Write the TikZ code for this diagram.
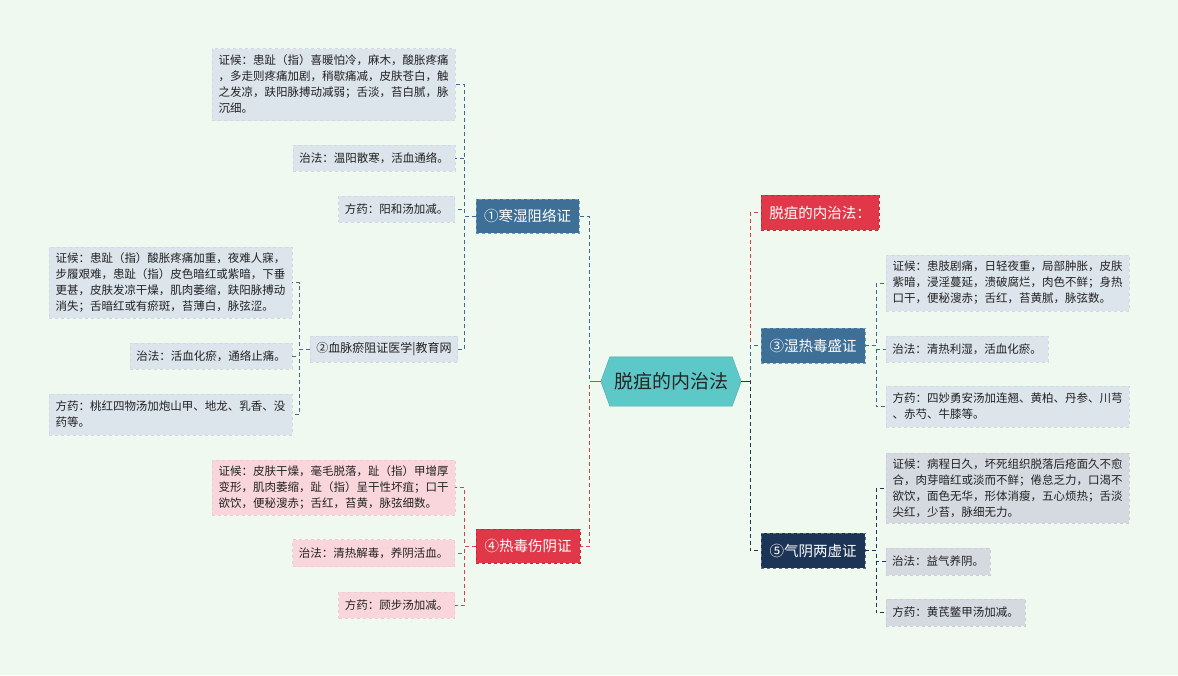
\documentclass[tikz,border=0pt]{standalone}
\usepackage{fontspec}
\setmainfont{Noto Sans CJK SC}
\definecolor{cBg}{HTML}{F0F9EF}
\definecolor{cLeafB}{HTML}{DCE4EC}
\definecolor{cLeafP}{HTML}{F9D6DC}
\definecolor{cLeafG}{HTML}{D5DAE1}
\definecolor{cBlue}{HTML}{3E6F96}
\definecolor{cRed}{HTML}{E03849}
\definecolor{cNavy}{HTML}{1C3456}
\definecolor{cTeal}{HTML}{5CC8C8}
\definecolor{cTxt}{HTML}{222222}
\definecolor{lBlue}{HTML}{3E6A92}
\definecolor{lBlue2}{HTML}{4A6A88}
\definecolor{lRed}{HTML}{D9404F}
\definecolor{lNavy}{HTML}{1C3456}
\newcommand{\leaffont}{\fontsize{11.5}{16}\selectfont}
\newcommand{\mainfont}{\fontsize{14.5}{17}\selectfont}
\tikzset{
  leaf/.style={rectangle, align=left, inner xsep=6pt, inner ysep=3pt, font=\leaffont, text=cTxt, dashed, line width=0.5pt},
  leafb/.style={leaf, fill=cLeafB, draw=cLeafB!95!black},
  leafp/.style={leaf, fill=cLeafP, draw=cLeafP!95!black},
  leafg/.style={leaf, fill=cLeafG, draw=cLeafG!95!black},
  mainnode/.style={rectangle, font=\mainfont, text=white, inner sep=0pt, dashed, line width=0.7pt},
  bluenode/.style={mainnode, fill=cBlue, draw=cBlue!70!white},
  rednode/.style={mainnode, fill=cRed, draw=cRed!80!black},
  navynode/.style={mainnode, fill=cNavy, draw=cNavy!70!white},
  conn/.style={line width=0.9pt, dash pattern=on 4pt off 3pt},
}
\begin{document}
\begin{tikzpicture}[x=1pt,y=-1pt]
\fill[cBg] (0,0) rectangle (1178,675);
\useasboundingbox (0,0) rectangle (1178,675);

% center
\node[minimum width=140pt, minimum height=49pt, inner sep=0pt] (c) at (671,381.5) {};
\fill[cTeal, draw=cTeal!85!black, line width=0.4pt] (c.west) -- ([xshift=9pt]c.north west) -- ([xshift=-9pt]c.north east) -- (c.east) -- ([xshift=-9pt]c.south east) -- ([xshift=9pt]c.south west) -- cycle;
\node[font=\fontsize{19}{22}\selectfont, text=black!85] (ct) at (c.center) {脱疽的内治法};

% left group 1
\node[bluenode, minimum width=103pt, minimum height=34pt] (n1) at (527.5,216) {①寒湿阻络证};
\node[leafb, minimum width=243pt, minimum height=72pt] (a1) at (333.5,84.5) {证候：患趾（指）喜暖怕冷，麻木，酸胀疼痛\\，多走则疼痛加剧，稍歇痛减，皮肤苍白，触\\之发凉，趺阳脉搏动减弱；舌淡，苔白腻，脉\\沉细。};
\node[leafb, minimum width=162pt, minimum height=26pt] (a2) at (374,158) {治法：温阳散寒，活血通络。};
\node[leafb, minimum width=116pt, minimum height=26pt] (a3) at (396.5,209) {方药：阳和汤加减。};
\node[leafb, font=\fontsize{12}{14}\selectfont, minimum width=142pt, minimum height=26pt] (n2) at (384,349) {②血脉瘀阻证医学|教育网};

% left group 2
\node[leafb, minimum width=243pt, minimum height=71pt] (b1) at (170.5,282.5) {证候：患趾（指）酸胀疼痛加重，夜难人寐，\\步履艰难，患趾（指）皮色暗红或紫暗，下垂\\更甚，皮肤发凉干燥，肌肉萎缩，趺阳脉搏动\\消失；舌暗红或有瘀斑，苔薄白，脉弦涩。};
\node[leafb, minimum width=162pt, minimum height=26pt] (b2) at (211,356) {治法：活血化瘀，通络止痛。};
\node[leafb, minimum width=243pt, minimum height=41pt] (b3) at (170.5,414.5) {方药：桃红四物汤加炮山甲、地龙、乳香、没\\药等。};

% left group 4
\node[rednode, minimum width=104pt, minimum height=34pt] (n4) at (528,546) {④热毒伤阴证};
\node[leafp, minimum width=243pt, minimum height=55pt] (c1) at (333.5,487.5) {证候：皮肤干燥，毫毛脱落，趾（指）甲增厚\\变形，肌肉萎缩，趾（指）呈干性坏疽；口干\\欲饮，便秘溲赤；舌红，苔黄，脉弦细数。};
\node[leafp, minimum width=162pt, minimum height=27pt] (c2) at (373.5,553) {治法：清热解毒，养阴活血。};
\node[leafp, minimum width=116pt, minimum height=26pt] (c3) at (396.5,605) {方药：顾步汤加减。};

% right
\node[rednode, minimum width=118pt, minimum height=35pt] (r0) at (820,212.5) {脱疽的内治法：};
\node[bluenode, minimum width=104pt, minimum height=35pt] (n3) at (813,345.5) {③湿热毒盛证};
\node[leafb, minimum width=243pt, minimum height=56pt] (d1) at (1007.5,283) {证候：患肢剧痛，日轻夜重，局部肿胀，皮肤\\紫暗，浸淫蔓延，溃破腐烂，肉色不鲜；身热\\口干，便秘溲赤；舌红，苔黄腻，脉弦数。};
\node[leafb, minimum width=162pt, minimum height=26pt] (d2) at (967,349) {治法：清热利湿，活血化瘀。};
\node[leafb, minimum width=243pt, minimum height=41pt] (d3) at (1007.5,406.5) {方药：四妙勇安汤加连翘、黄柏、丹参、川芎\\、赤芍、牛膝等。};

\node[navynode, minimum width=104pt, minimum height=35pt] (n5) at (813,550.5) {⑤气阴两虚证};
\node[leafg, minimum width=243pt, minimum height=70pt] (e1) at (1007.5,488) {证候：病程日久，坏死组织脱落后疮面久不愈\\合，肉芽暗红或淡而不鲜；倦怠乏力，口渴不\\欲饮，面色无华，形体消瘦，五心烦热；舌淡\\尖红，少苔，脉细无力。};
\node[leafg, minimum width=104pt, minimum height=27pt] (e2) at (938,561.5) {治法：益气养阴。};
\node[leafg, minimum width=139pt, minimum height=27pt] (e3) at (955.5,612.5) {方药：黄芪鳖甲汤加减。};

% connectors: center to main branches
\draw[conn, lBlue] (c.west) -- ++(-11,0) |- (n1.east);
\draw[conn, lRed] (c.west) -- ++(-11,0) |- (n4.east);
\draw[lRed, line width=0.9pt] (c.west) -- ++(-11,0);
\draw[conn, lRed] (c.east) -- ++(9,0) |- (r0.west);
\draw[conn, lBlue] (c.east) -- ++(9,0) |- (n3.west);
\draw[conn, lNavy] (c.east) -- ++(9,0) |- (n5.west);
\draw[lNavy, line width=0.9pt] (c.east) -- ++(9,0);

% group 1
\foreach \t in {a1,a2,a3,n2} \draw[conn, lBlue] (n1.west) -- ++(-11,0) |- (\t.east);
% group 2
\foreach \t in {b1,b2,b3} \draw[conn, lBlue2] (n2.west) -- ++(-11,0) |- (\t.east);
% group 4
\foreach \t in {c1,c2,c3} \draw[conn, lRed] (n4.west) -- ++(-11,0) |- (\t.east);
% group 3
\foreach \t in {d1,d2,d3} \draw[conn, lBlue] (n3.east) -- ++(11,0) |- (\t.west);
% group 5
\foreach \t in {e1,e2,e3} \draw[conn, lNavy] (n5.east) -- ++(11,0) |- (\t.west);
\end{tikzpicture}
\end{document}
